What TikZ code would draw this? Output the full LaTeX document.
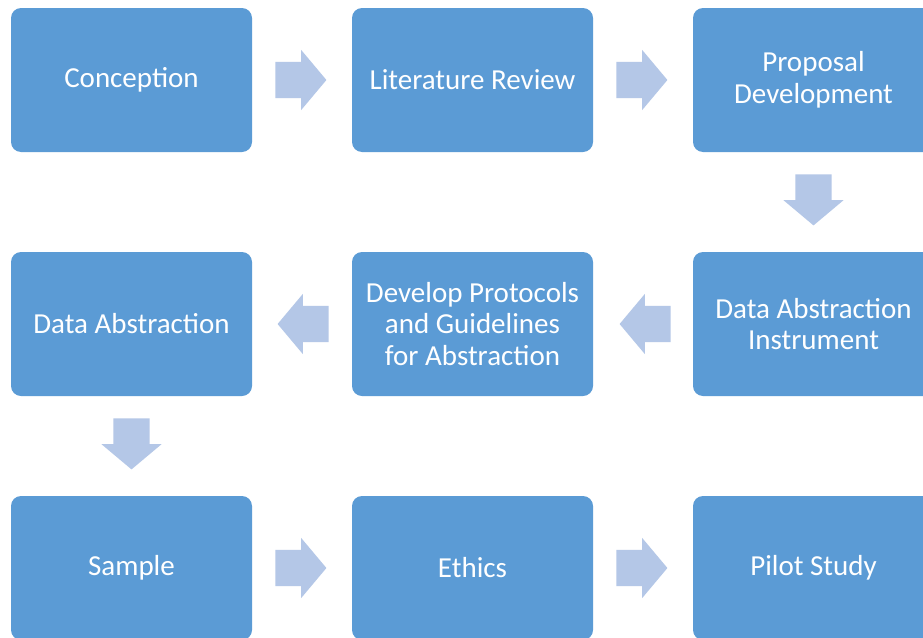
\documentclass[tikz,border=0pt]{standalone}
\usepackage{fontspec}
\setmainfont{Carlito}
\usetikzlibrary{calc,shapes.arrows}
\definecolor{stageblue}{HTML}{5B9BD5}
\definecolor{arrowblue}{HTML}{B4C7E7}

\begin{document}
\begin{tikzpicture}[x=1pt,y=-1pt,
    stage/.style={rectangle,rounded corners=10pt,fill=stageblue,text=white,
      minimum width=241pt,minimum height=144pt,inner sep=0pt,align=center,
      font=\fontsize{29}{31.5}\selectfont},
    blockarrow/.style={single arrow,fill=arrowblue,minimum height=51pt,
      minimum width=0pt,inner xsep=0pt,inner ysep=18pt,anchor=tail,
      single arrow head extend=12pt,single arrow tip angle=100,
      shape border rotate=#1},
    vblockarrow/.style={blockarrow=270,inner xsep=18pt,inner ysep=0pt}]
  \clip (0,0) rectangle (923,637);
  \fill[white] (0,0) rectangle (923,637);
  % first row
  \node[stage] (concept) at (131.5,80) {Conception};
  \node[stage] (litrev) at (472.5,80) {Literature Review};
  \node[stage] (proposal) at (813.5,80) {Proposal\\Development};
  % second row, read right to left
  \node[stage] (instr) at (813.5,324) {Data Abstraction\\Instrument};
  \node[stage] (protocols) at (472.5,324) {Develop Protocols\\and Guidelines\\for Abstraction};
  \node[stage] (abstr) at (131.5,324) {Data Abstraction};
  % third row
  \node[stage] (sample) at (131.5,568) {Sample};
  \node[stage] (ethics) at (472.5,568) {Ethics};
  \node[stage] (pilot) at (813.5,568) {Pilot Study};
  % block arrows, tail set a little off each stage
  \node[blockarrow=0] (ar1) at ($(concept.east)!23pt!(litrev.west)$) {};
  \node[blockarrow=0] (ar2) at ($(litrev.east)!23pt!(proposal.west)$) {};
  \node[vblockarrow] (ar3) at ($(proposal.south)!22pt!(instr.north)$) {};
  \node[blockarrow=180] (ar4) at ($(instr.west)!22pt!(protocols.east)$) {};
  \node[blockarrow=180] (ar5) at ($(protocols.west)!23pt!(abstr.east)$) {};
  \node[vblockarrow] (ar6) at ($(abstr.south)!22pt!(sample.north)$) {};
  \node[blockarrow=0] (ar7) at ($(sample.east)!23pt!(ethics.west)$) {};
  \node[blockarrow=0] (ar8) at ($(ethics.east)!23pt!(pilot.west)$) {};
\end{tikzpicture}
\end{document}
